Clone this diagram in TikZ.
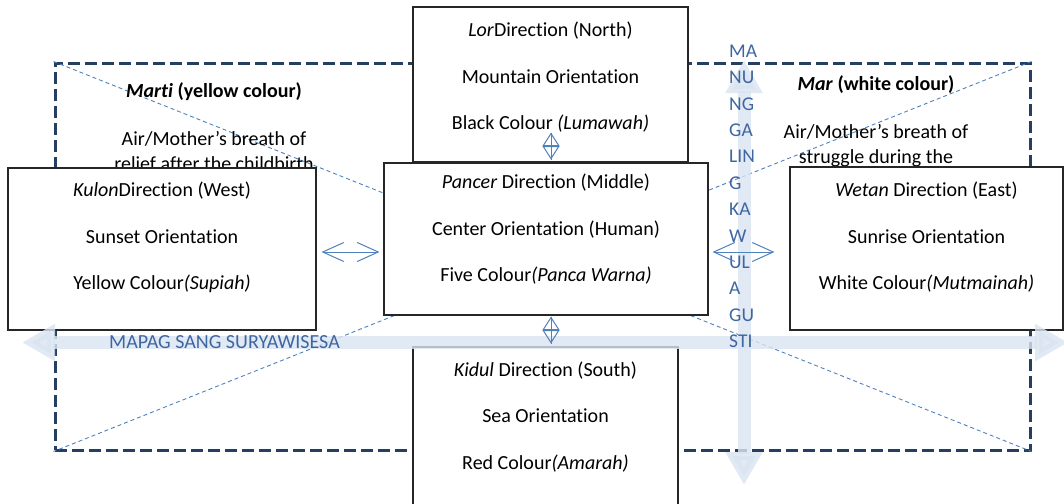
\documentclass[tikz,border=0pt]{standalone}
\usepackage{fontspec}
\setmainfont{Carlito}[Ligatures=NoCommon]
\usetikzlibrary{arrows.meta, calc}
\definecolor{frameblue}{RGB}{36,63,96}
\definecolor{lineblue}{RGB}{79,129,189}
\definecolor{textblue}{RGB}{62,102,160}
\definecolor{bandblue}{RGB}{218,228,241}

\begin{document}
\begin{tikzpicture}[
  x=1pt, y=-1pt,
  dirbox/.style={draw=black!85, fill=white, line width=1.1pt, inner sep=0pt}, % direction boxes
  boxtext/.style={align=center, inner sep=0pt, font=\fontsize{20}{46.5}\selectfont},
  sidetext/.style={align=center, inner sep=0pt, font=\fontsize{20}{25}\selectfont},
  frame/.style={draw=frameblue, line width=3pt, dash pattern=on 12pt off 5pt, inner sep=0pt},
  diag/.style={draw=lineblue, line width=0.9pt, dash pattern=on 4pt off 3pt},
  band/.style={draw=bandblue, opacity=0.8, line width=13pt,
    {Triangle[length=33pt,width=35pt]}-{Triangle[length=33pt,width=35pt]}},
  bandtext/.style={text=textblue, inner sep=0pt, font=\fontsize{19.5}{20}\selectfont},
  lrarrow/.style={draw=lineblue, line width=1pt,
    {Straight Barb[length=21pt,width=19pt]}-{Straight Barb[length=21pt,width=19pt]}},
  udarrow/.style={draw=lineblue, line width=1pt,
    {Triangle[open,length=13.5pt,width=17pt]}-{Triangle[open,length=13.5pt,width=17pt]},
    postaction={draw, arrows=-}}
]
\clip (0,0) rectangle (1064,503);

% Define the outer frame and its diagonals
\node[frame, minimum width=975pt, minimum height=387pt] (frame) at (542.5,256.5) {};
\draw[diag] (frame.north west) -- (frame.south east);
\draw[diag] (frame.north east) -- (frame.south west);

% Side texts (partly hidden by the boxes)
\node[sidetext] (marti) at (214,126.5) {\textbf{\textit{Marti} (yellow colour)}\\[23pt]Air/Mother’s breath of\\relief after the childbirth};
\node[sidetext] (mar) at (876,121) {\textbf{\textit{Mar} (white colour)}\\[23pt]Air/Mother’s breath of\\struggle during the};

% Direction boxes
\node[dirbox, minimum width=275pt, minimum height=155pt] (north) at (550.5,84.5) {};
\node[dirbox, minimum width=324pt, minimum height=152pt] (middle) at (546,239) {};
\node[dirbox, minimum width=308pt, minimum height=162pt] (west) at (162,249) {};
\node[dirbox, minimum width=273pt, minimum height=163pt] (east) at (926.5,248.5) {};
\node[dirbox, minimum width=265pt, minimum height=162pt] (south) at (545.5,428) {};

\node[boxtext] (northtext) at ([yshift=7pt]north) {\textit{Lor}Direction (North)\\Mountain Orientation\\Black Colour \textit{(Lumawah)}};
\node[boxtext] (middletext) at ([yshift=9.5pt]middle) {\textit{Pancer} Direction (Middle)\\Center Orientation (Human)\\Five Colour\textit{(Panca Warna)}};
\node[boxtext] (westtext) at ([yshift=11.5pt]west) {\textit{Kulon}Direction (West)\\Sunset Orientation\\Yellow Colour\textit{(Supiah)}};
\node[boxtext] (easttext) at ([yshift=11pt]east) {\textit{Wetan} Direction (East)\\Sunrise Orientation\\White Colour\textit{(Mutmainah)}};
\node[boxtext] (southtext) at ([yshift=11pt]south) {\textit{Kidul} Direction (South)\\Sea Orientation\\Red Colour\textit{(Amarah)}};

% Light arrows across the frame
\coordinate (sunwest) at (22,342.5);
\coordinate (suneast) at (1068,342.5);
\coordinate (skytop) at (744,60);
\coordinate (skybottom) at (744,485);
\draw[band] (sunwest) -- (suneast);
\draw[band] (skytop) -- (skybottom);

\node[bandtext, font=\fontsize{20}{20}\selectfont] (sunlabel) at (224.5,342.5) {MAPAG SANG SURYAWISESA};
\foreach \syl [count=\i from 0] in {MA,NU,NG,GA,LIN,G,KA,W,UL,A,GU,STI}
  \node[bandtext, anchor=west] (syl\i) at (729,{51+26.4*\i}) {\syl};

% Small arrows between the boxes
\draw[lrarrow] ($(west.east)+(5,3)$) -- ($(west.east -| middle.west)+(-4,3)$);
\draw[lrarrow] ($(middle.east |- east.west)+(4,3.5)$) -- ($(east.west)+(-15,3.5)$);
\draw[udarrow] ($(north.south)+(0.5,-3)$) -- ($(north.south)+(0.5,-30)$);
\draw[udarrow] ($(middle.south)+(5,1)$) -- ($(middle.south)+(5,28)$);
\end{tikzpicture}
\end{document}
